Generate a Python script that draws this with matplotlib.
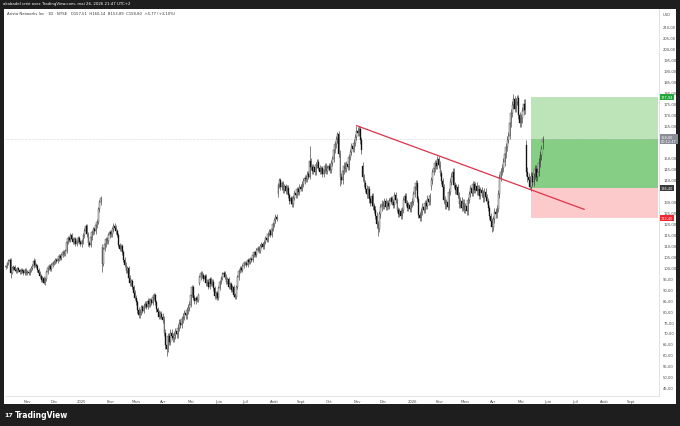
import matplotlib
matplotlib.use('Agg')
import matplotlib.pyplot as plt
from matplotlib.patches import Rectangle
from matplotlib.transforms import blended_transform_factory
import numpy as np
import pandas as pd

# ANET daily closes, one list per month
oct24 = [100.5, 101.8, 102.9, 103.5, 97.6, 99.6, 100.2, 99.0, 98.2, 99.5, 98.6, 97.8, 99.0, 98.4, 97.5, 98.8, 97.4]
nov24 = [98.0, 97.2, 98.6, 99.5, 100.8, 103.0, 101.2, 100.5, 98.9, 97.6, 96.0, 94.2, 95.3, 93.0, 94.6, 97.8, 99.6, 100.5, 99.4, 101.0, 101.8]
dec24 = [102.5, 103.4, 102.8, 104.0, 105.1, 104.3, 105.8, 106.9, 106.2, 107.5, 111.8, 113.6, 112.4, 114.8, 112.9, 111.5, 113.0, 110.6, 112.2, 113.5, 111.4, 110.5]
jan25 = [112.0, 114.6, 116.8, 118.9, 115.2, 111.0, 110.2, 113.8, 116.0, 117.5, 116.4, 119.2, 120.8, 126.5, 129.8, 131.6, 101.5, 108.4, 110.6, 112.8, 111.9, 114.7, 116.1]
feb25 = [115.2, 117.4, 119.0, 118.2, 116.5, 114.8, 110.2, 108.5, 109.6, 106.8, 103.5, 101.2, 98.4, 99.6, 95.2, 92.8, 93.6, 91.0, 88.5, 86.2]
mar25 = [84.0, 80.5, 78.2, 79.6, 81.8, 80.2, 82.5, 83.4, 82.0, 84.6, 83.2, 84.9, 83.8, 86.5, 87.2, 84.0, 80.8, 79.5, 77.4, 78.8, 77.5]
apr25 = [76.0, 70.2, 64.5, 62.8, 68.5, 66.0, 70.2, 68.4, 67.5, 69.0, 70.8, 69.5, 72.4, 74.6, 73.8, 76.2, 77.5, 79.0, 78.2, 80.5, 81.6, 83.0]
may25 = [87.5, 90.8, 86.2, 84.5, 86.0, 85.2, 87.4, 95.5, 97.2, 96.4, 94.8, 96.0, 92.8, 93.5, 91.2, 94.6, 92.5, 93.4, 90.5, 86.8, 88.2, 86.0]
jun25 = [90.5, 93.2, 95.0, 96.8, 97.5, 95.8, 93.5, 94.8, 91.2, 92.5, 89.6, 90.8, 87.5, 86.4, 91.0, 95.4, 98.2, 99.6, 98.8, 100.5, 101.8]
jul25 = [102.2, 101.0, 103.4, 102.5, 104.0, 103.2, 105.6, 106.8, 105.5, 107.8, 108.9, 107.4, 109.6, 110.5, 109.2, 111.8, 113.5, 112.6, 115.2, 116.8, 114.9, 117.5, 119.8]
aug25 = [121.5, 123.0, 122.2, 137.5, 139.8, 136.6, 138.4, 135.2, 137.0, 134.8, 136.5, 133.0, 130.2, 131.5, 128.9, 131.8, 134.2, 133.0, 135.6, 134.4, 136.8]
sep25 = [136.0, 138.2, 139.5, 141.0, 140.2, 142.8, 141.5, 148.6, 146.0, 144.2, 145.8, 143.5, 146.8, 148.2, 145.6, 143.8, 145.2, 142.5, 144.6, 146.4, 143.9, 145.5]
oct25 = [146.2, 144.5, 147.8, 149.5, 153.8, 156.2, 158.5, 160.8, 152.0, 141.5, 139.8, 144.2, 146.5, 145.0, 147.2, 146.0, 150.4, 152.8, 155.5, 154.2, 157.0, 159.6, 162.4]
nov25 = [161.5, 163.2, 158.0, 153.5, 141.2, 138.5, 136.0, 133.4, 135.8, 131.2, 129.5, 132.6, 128.0, 126.4, 123.5, 119.8, 117.6, 124.2, 127.5, 129.0]
dec25 = [128.2, 130.5, 127.6, 129.4, 128.0, 130.2, 131.5, 129.8, 128.5, 133.2, 130.6, 126.4, 124.5, 125.8, 123.6, 126.2, 131.0, 132.8, 129.5, 127.0, 128.4, 126.6, 129.2]
jan26 = [130.0, 133.5, 136.8, 138.5, 131.2, 124.0, 122.5, 125.6, 127.8, 126.2, 129.5, 128.0, 131.4, 130.0, 132.5, 139.8, 143.5, 145.2, 147.8, 146.5, 149.6, 147.0]
feb26 = [143.2, 139.5, 136.8, 131.0, 128.4, 129.8, 127.5, 134.6, 139.2, 141.5, 143.8, 137.6, 135.2, 136.8, 133.0, 128.8, 130.5, 127.2, 129.6, 126.4]
mar26 = [128.0, 125.6, 130.8, 133.5, 136.2, 134.0, 138.2, 135.5, 137.4, 134.8, 136.0, 132.6, 135.2, 133.8, 131.5, 134.6, 132.0, 130.4, 127.2, 123.5, 121.0, 118.4]
apr26 = [122.0, 125.5, 124.2, 126.8, 133.5, 141.0, 143.8, 145.5, 148.2, 151.6, 155.0, 158.4, 160.2, 165.8, 170.5, 174.2, 176.8, 172.5, 175.8, 177.2, 169.5, 166.0]
may26 = [168.2, 171.5, 174.8, 172.0, 143.8, 141.2, 139.8, 136.9, 141.8, 139.2, 142.5, 144.8, 141.5, 143.6, 147.8, 151.2, 154.0, 158.8]
months = [oct24, nov24, dec24, jan25, feb25, mar25, apr25, may25, jun25, jul25,
          aug25, sep25, oct25, nov25, dec25, jan26, feb26, mar26, apr26, may26]
month_wick = [0.8, 0.9, 0.9, 1.1, 1.1, 1.2, 1.6, 1.1, 1.0, 0.9,
              1.2, 1.3, 1.5, 1.6, 1.3, 1.5, 1.5, 1.5, 1.7, 2.0]

first_open = 100.0
gap_opens = {76: 109.5, 153: 93.0, 215: 133.5, 282: 146.5, 336: 137.0, 411: 156.0, 424: 157.51}
high_marks = {22: 104.5, 75: 132.8, 240: 155.6, 262: 162.0, 277: 164.8, 401: 179.2, 424: 160.14}
low_marks = {4: 95.0, 30: 92.4, 76: 98.0, 127: 59.4, 264: 137.0, 294: 114.5, 384: 116.0, 414: 135.8, 424: 153.89}

# drawings
trend_bars = [277, 457]
trend_prices = [164.8, 126.5]
entry_bar = 415
target, entry, stop, last = 177.94, 136.40, 122.40, 158.80

month_names = ['Janv', 'Févr', 'Mars', 'Avr', 'Mai', 'Juin', 'Juil', 'Août', 'Sept', 'Oct', 'Nov', 'Déc']
hidden_ticks = [135, 155, 160]  # covered by the price labels on the scale

# ---- build OHLC
close = np.array(sum(months, []))
n = len(close)
wick = np.concatenate([[w] * len(m) for w, m in zip(month_wick, months)])
open_ = np.r_[first_open, close[:-1]]
for k, v in gap_opens.items():
    open_[k] = v
high = np.maximum(open_, close) + wick
low = np.minimum(open_, close) - wick
for k, v in high_marks.items():
    high[k] = v
for k, v in low_marks.items():
    low[k] = v

dates = pd.bdate_range('2024-10-09', periods=n + 95)
x = np.arange(n)

BG = '#1e1e1e'
W, H = 680, 427
fig = plt.figure(figsize=(6.8, 4.27), dpi=100, facecolor=BG)

# white panel (chart + scales)
bg = fig.add_axes([4 / W, 22 / H, 672 / W, 395 / H], zorder=-5)
bg.set_facecolor('white')
bg.set_xticks([])
bg.set_yticks([])
for s in bg.spines.values():
    s.set_visible(False)

ax = fig.add_axes([5 / W, 30 / H, 654 / W, 387 / H], zorder=1)
ax.patch.set_alpha(0)
ax.set_xlim(-0.6, 516)
ax.set_ylim(41.2, 218.1)

# position tool
xr = ax.get_xlim()[1]
ax.add_patch(Rectangle((entry_bar - 0.5, last), xr - entry_bar, target - last, fc='#bde4b8', ec='none', zorder=1))
ax.add_patch(Rectangle((entry_bar - 0.5, entry), xr - entry_bar, last - entry, fc='#86ce85', ec='none', zorder=1))
ax.add_patch(Rectangle((entry_bar - 0.5, stop), xr - entry_bar, entry - stop, fc='#fccaca', ec='none', zorder=1))

ax.axhline(last, color='#b2b5be', lw=0.4, ls=(0, (1, 1.5)), zorder=2)

# candles
up = close >= open_
ax.vlines(x, low, high, color='#222222', lw=0.4, zorder=3)
ax.bar(x[up], (close - open_)[up], bottom=open_[up], width=0.7, color='white',
       edgecolor='#111111', lw=0.25, zorder=4)
ax.bar(x[~up], (open_ - close)[~up], bottom=close[~up], width=0.7, color='#111111',
       edgecolor='#111111', lw=0.25, zorder=4)

ax.plot(trend_bars, trend_prices, color='#e0324b', lw=0.9, zorder=5, solid_capstyle='round')

# axes styling
for s in ['top', 'left']:
    ax.spines[s].set_visible(False)
for s in ['right', 'bottom']:
    ax.spines[s].set_color('#d6d6d6')
    ax.spines[s].set_linewidth(0.5)

yt = np.arange(45, 215, 5)
ax.yaxis.tick_right()
ax.set_yticks(yt)
ax.set_yticklabels(['' if v in hidden_ticks else f'{v:.2f}'.replace('.', ',') for v in yt])
ax.tick_params(axis='y', length=0, pad=3, labelsize=2.7, labelcolor='#4a4a4a')

tick_pos, tick_lab = [], []
for i in range(1, len(dates)):
    if dates[i].month != dates[i - 1].month and i <= 512:
        tick_pos.append(i)
        tick_lab.append(str(dates[i].year) if dates[i].month == 1 else month_names[dates[i].month - 1])
ax.set_xticks(tick_pos)
ax.set_xticklabels(tick_lab)
ax.tick_params(axis='x', length=0, pad=2, labelsize=2.7, labelcolor='#4a4a4a')

# price labels on the scale
tr = blended_transform_factory(ax.transAxes, ax.transData)
for val, txt, fc in [(target, '177,94', '#22a63a'), (last, '158,80\n00:12:47', '#8a8d96'),
                     (entry, '136,40', '#3b3b3b'), (stop, '122,40', '#f0262f')]:
    ax.text(1.003, val, txt, transform=tr, fontsize=2.5, color='white', va='center', ha='left',
            linespacing=1.0, clip_on=False, zorder=10,
            bbox=dict(boxstyle='square,pad=0.3', fc=fc, ec='none'))
fig.text(667 / W, 1 - 15 / H, 'USD', fontsize=2.7, color='#4a4a4a', ha='center', va='center')

# header / legend / footer
fig.text(3 / W, 1 - 4.5 / H, 'akabadel créé avec TradingView.com, mai 26, 2026 21:47 UTC+2',
         fontsize=2.8, color='white', va='center')
fig.text(7 / W, 1 - 14 / H,
         'Arista Networks Inc · 1D · NYSE   O157,51  H160,14  B153,89  C158,80  +4,77 (+3,10%)',
         fontsize=2.7, color='#333333', va='center')
fig.text(4 / W, 1 - 416 / H, '17', fontsize=4.5, fontweight='bold', color='white', va='center')
fig.text(15 / W, 1 - 416 / H, 'TradingView', fontsize=5.5, fontweight='bold', color='white', va='center')

fig.savefig('out.png', dpi=100, facecolor=BG)
